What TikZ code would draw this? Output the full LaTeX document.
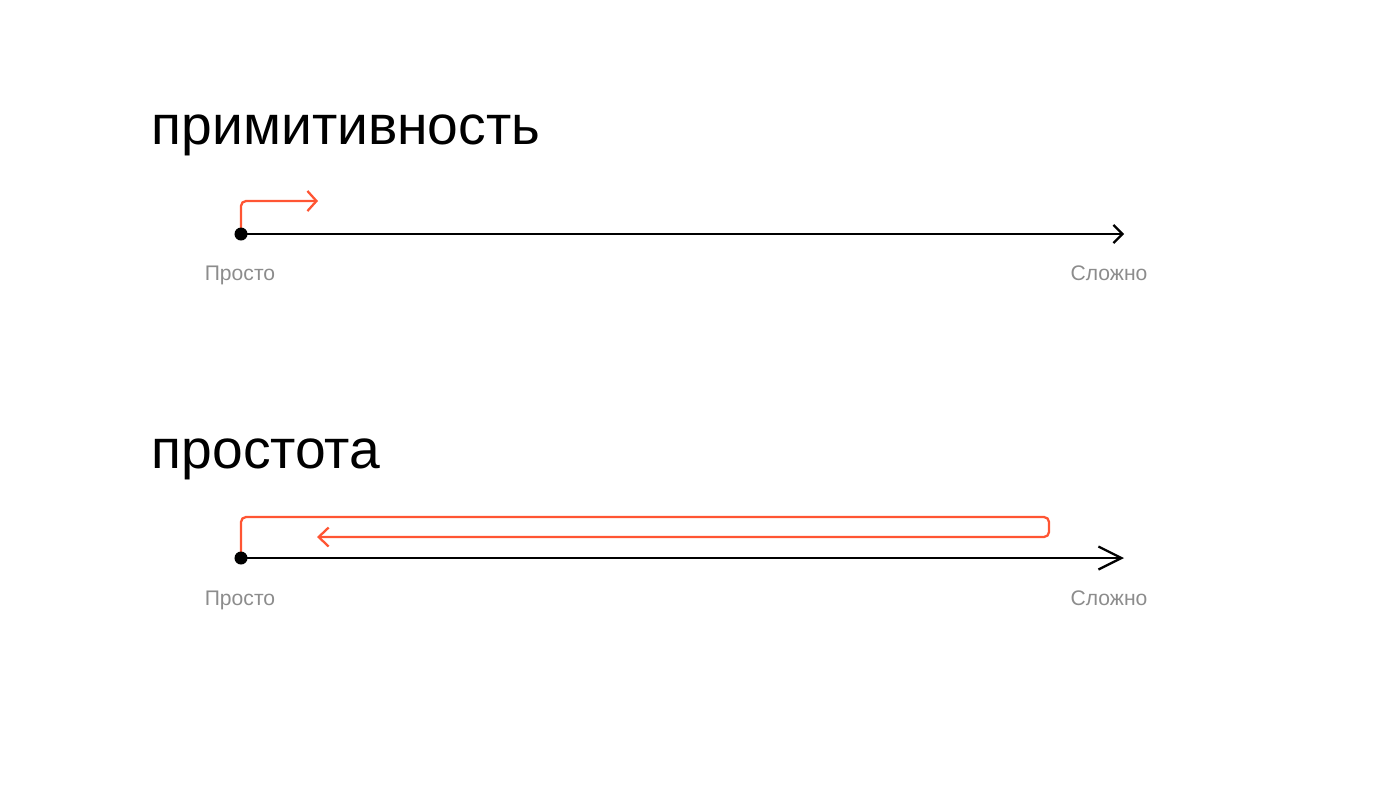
\documentclass[tikz,border=0pt]{standalone}
\usepackage{fontspec}
\setmainfont{Liberation Sans}
\usepackage{tikz}
\usetikzlibrary{arrows.meta,positioning}
\definecolor{accent}{HTML}{FF5533}
\definecolor{muted}{HTML}{8C8C8C}

\begin{document}
\begin{tikzpicture}[x=0.01cm,y=-0.01cm,
  title/.style={anchor=base west,inner sep=0pt,font=\fontsize{15.7}{17}\selectfont},
  lbl/.style={anchor=base,inner sep=0pt,text=muted,font=\fontsize{6}{7}\selectfont},
  dot/.style={circle,fill=black,inner sep=0pt,minimum size=0.13cm},
  axis/.style={line width=0.65pt},
  move/.style={accent,line width=0.65pt,rounded corners=0.05cm}]
\useasboundingbox (0,0) rectangle (1400,787);

% primitive
\node[title] (T1) at (151,144) {примитивность};
\coordinate  (S1) at (241,234);
\coordinate  (E1) at (1124,234);
\coordinate  (R1) at (318,201);
\node[lbl]   (P1) at (240,280) {Просто};
\node[lbl]   (C1) at (1109,280) {Сложно};
\draw[axis,-{Straight Barb[length=0.09cm,width=0.18cm]}] (S1) -- (E1);
\draw[move,-{Straight Barb[length=0.09cm,width=0.2cm]}] (S1) |- (R1);
\node[dot]   (D1) at (S1) {};

% simple
\node[title] (T2) at (151,468) {простота};
\coordinate  (S2) at (241,558);
\coordinate  (E2) at (1124,558);
\coordinate  (K2) at (1049,517);
\coordinate  (R2) at (317,537);
\node[lbl]   (P2) at (240,605) {Просто};
\node[lbl]   (C2) at (1109,605) {Сложно};
\draw[axis,-{Straight Barb[length=0.23cm,width=0.23cm]}] (S2) -- (E2);
\draw[move,-{Straight Barb[length=0.1cm,width=0.19cm]}] (S2) |- (K2) |- (R2);
\node[dot]   (D2) at (S2) {};
\end{tikzpicture}
\end{document}
